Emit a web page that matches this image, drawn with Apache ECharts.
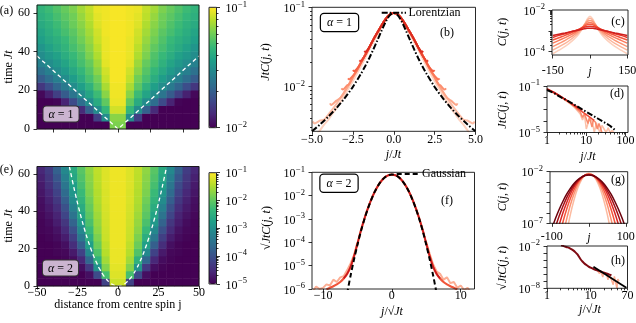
<!DOCTYPE html>
<html><head><meta charset="utf-8">
<script src="https://cdn.jsdelivr.net/npm/echarts@6/dist/echarts.min.js"></script>
<style>html,body{margin:0;padding:0;background:#fff}#c{width:636px;height:323px}</style>
</head><body><div id="c"></div>
<script>
// ================= DATA =================
// heat maps: column centres (j >= 0 half, mirrored), row centres (t)
const heatJHalf = [2.5,7.5,12.5,17.5,22.5,27.5,32.5,37.5,42.5,47.5];
const heatT = [2,6,10,14,18,22,26,30,34,38,42,46,50,54,58,62];
// (a) log10 JtC(j,t), alpha = 1, one row per heatT, columns heatJHalf
const heatA = [
 [-1.20,-2,-2,-2,-2,-2,-2,-2,-2,-2],
 [-1.18,-1.51,-1.81,-2,-2,-2,-2,-2,-2,-2],
 [-1.07,-1.34,-1.51,-1.69,-1.88,-2,-2,-2,-2,-2],
 [-1.03,-1.25,-1.39,-1.51,-1.64,-1.77,-1.90,-1.99,-2,-2],
 [-1.02,-1.18,-1.32,-1.42,-1.51,-1.61,-1.71,-1.81,-1.91,-1.98],
 [-1.02,-1.13,-1.26,-1.36,-1.44,-1.51,-1.59,-1.67,-1.76,-1.84],
 [-1.01,-1.09,-1.22,-1.30,-1.38,-1.45,-1.51,-1.57,-1.64,-1.71],
 [-1.01,-1.07,-1.18,-1.27,-1.34,-1.40,-1.46,-1.51,-1.57,-1.63],
 [-1.01,-1.04,-1.15,-1.24,-1.30,-1.36,-1.42,-1.47,-1.51,-1.56],
 [-1.01,-1.03,-1.12,-1.20,-1.28,-1.33,-1.38,-1.43,-1.47,-1.51],
 [-1.01,-1.03,-1.10,-1.18,-1.25,-1.30,-1.35,-1.39,-1.43,-1.48],
 [-1.01,-1.03,-1.08,-1.16,-1.22,-1.28,-1.33,-1.37,-1.40,-1.44],
 [-1.01,-1.02,-1.07,-1.14,-1.20,-1.26,-1.30,-1.34,-1.38,-1.42],
 [-1.01,-1.02,-1.05,-1.12,-1.18,-1.23,-1.28,-1.32,-1.36,-1.39],
 [-1.01,-1.02,-1.04,-1.10,-1.16,-1.22,-1.26,-1.30,-1.34,-1.37],
 [-1.01,-1.02,-1.03,-1.09,-1.14,-1.20,-1.24,-1.28,-1.32,-1.35]
];
// (e) log10 sqrt(Jt)C(j,t), alpha = 2
const heatE = [
 [-1.30,-4.20,-5,-5,-5,-5,-5,-5,-5,-5],
 [-1.20,-2.20,-4.08,-4.84,-5,-5,-5,-5,-5,-5],
 [-1.16,-1.76,-2.96,-4.32,-4.84,-4.96,-5,-5,-5,-5],
 [-1.12,-1.56,-2.44,-3.68,-4.56,-4.88,-4.96,-5,-5,-5],
 [-1.12,-1.44,-2.12,-3.12,-4.20,-4.72,-4.92,-4.96,-5,-5],
 [-1.10,-1.38,-1.92,-2.76,-3.80,-4.48,-4.84,-4.96,-5,-5],
 [-1.10,-1.32,-1.80,-2.52,-3.40,-4.24,-4.68,-4.88,-4.96,-5],
 [-1.10,-1.30,-1.70,-2.32,-3.12,-4.00,-4.52,-4.80,-4.92,-4.96],
 [-1.10,-1.28,-1.64,-2.16,-2.88,-3.72,-4.36,-4.68,-4.88,-4.96],
 [-1.09,-1.26,-1.58,-2.04,-2.68,-3.46,-4.16,-4.60,-4.80,-4.92],
 [-1.09,-1.24,-1.52,-1.96,-2.54,-3.24,-4.00,-4.48,-4.72,-4.88],
 [-1.09,-1.22,-1.48,-1.88,-2.40,-3.06,-3.80,-4.34,-4.64,-4.84],
 [-1.09,-1.22,-1.46,-1.80,-2.30,-2.90,-3.60,-4.20,-4.56,-4.76],
 [-1.09,-1.20,-1.42,-1.76,-2.20,-2.76,-3.42,-4.08,-4.44,-4.72],
 [-1.09,-1.20,-1.40,-1.72,-2.12,-2.64,-3.28,-3.92,-4.36,-4.64],
 [-1.09,-1.20,-1.38,-1.68,-2.06,-2.56,-3.12,-3.76,-4.28,-4.56]
];
// white dashed guides
const coneJ = [-50, 0, 50];
const coneT = [37.7, 0, 37.7];
const paraT = [0,1,2,4,6,9,12,16,20,25,30,36,42,49,56,64];
const paraJ = [0,3.75,5.3,7.5,9.19,11.25,12.99,15,16.77,18.75,20.54,22.5,24.3,26.25,28.06,30];

// (b) JtC vs j/Jt (right half, mirrored)
const bBodyX = [0,0.25,0.5,0.75,1,1.25,1.5,1.75,2,2.25,2.5,2.75,3,3.25,3.5,3.75,4,4.25,4.5,4.75];
const bBodyY = [.085,.081,.071,.059,.048,.039,.031,.025,.020,.016,.013,.0105,.0086,.0072,.0060,.0051,.0044,.0038,.0033,.0029];
const bFinTails = [ // darkest (latest) first
 [[1.45,.0325],[1.6,.029],[1.72,.0272],[1.8,.028]],
 [[1.75,.0245],[1.9,.0222],[2.02,.0208],[2.1,.0214]],
 [[2.15,.0178],[2.3,.0163],[2.42,.0155],[2.5,.0160]],
 [[2.45,.0140],[2.6,.0129],[2.72,.0122],[2.8,.0126]],
 [[2.85,.0103],[3.0,.0095],[3.12,.0091],[3.2,.0094]],
 [[3.5,.0066],[3.68,.0061],[3.82,.0058],[3.9,.0061]],
 [[4.5,.0037],[4.7,.0035],[4.85,.0034],[4.95,.0036]]
];
const bLightX = [0,0.25,0.5,0.75,1,1.25,1.5,1.75,2,2.25,2.5,2.75,3,3.25,3.5,3.75,4,4.25,4.5,4.75];
const bLightY = [.085,.080,.069,.056,.045,.036,.029,.0228,.018,.0145,.0117,.0095,.0078,.0064,.0053,.0045,.0038,.0033,.0028,.0024];
const lorX = [0,0.25,0.5,0.75,1,1.25,1.5,1.75,2,2.5,3,3.5,4,4.5,5];
const lorY = [.085,.079,.0651,.0504,.0383,.0293,.0227,.018,.0145,.00986,.0071,.00533,.00414,.00331,.0027];

// (c) log10 C(j,t) vs j, 7 times (early -> late)
const cJ = [0,10,20,30,45,60,80,100,125,150];
const cLog = [
 [-2.30,-2.42,-2.65,-2.88,-3.15,-3.35,-3.57,-3.75,-3.93,-4.10],
 [-2.40,-2.48,-2.66,-2.85,-3.08,-3.25,-3.44,-3.60,-3.77,-3.93],
 [-2.50,-2.55,-2.68,-2.83,-3.02,-3.16,-3.32,-3.46,-3.61,-3.76],
 [-2.60,-2.63,-2.71,-2.82,-2.96,-3.08,-3.21,-3.33,-3.46,-3.59],
 [-2.68,-2.70,-2.76,-2.83,-2.93,-3.02,-3.12,-3.22,-3.33,-3.44],
 [-2.78,-2.79,-2.82,-2.86,-2.93,-2.99,-3.06,-3.14,-3.22,-3.32],
 [-2.88,-2.88,-2.90,-2.92,-2.96,-3.00,-3.05,-3.10,-3.16,-3.22]
];

// (d) JtC vs j/Jt, log-log
const dBlackX = [1,1.5,2,3,5,7,10,15,20,30,40,57];
const dBlackY = [.045,.025,.0135,.0065,.0024,.00123,.00061,.00027,.000152,.000068,.000038,.000014];
const dRedX = [
 [1,2,3,4,5,6,7,8,9,10,12,14,16,18,20,22,25,28,32,36,40,45,50],
 [1,2,3,4,5,6,7,8,9,10,11,12,13,14,15,17,19,21,23,25],
 [1,2,3,4,5,6,7,8,9,10,12,14,16],
 [1,1.5,2,3,4,5,6,7,8]
];
const dRedY = [
 [.055,.014,.0055,.0027,.0014,.0007,.0004,.00012,.0003,.00002,.00015,.0001,.00001,.00007,.00005,.00001,.00004,.00003,.00001,.000025,.00001,.000015,.00001],
 [.055,.015,.006,.003,.0017,.0009,.0006,.0002,.0004,.0003,.00006,.0002,.00015,.00003,.00011,.00008,.00002,.00006,.00005,.00001],
 [.055,.0155,.0064,.0033,.0019,.0012,.00082,.00058,.00045,.00034,.00022,.00015,.00011],
 [.055,.029,.016,.0068,.0036,.0022,.0015,.0011,.00085]
];

// (f) log10 sqrt(Jt)C vs j/sqrt(Jt) (right half, mirrored)
const fX = [0,.5,1,1.5,2,2.5,3,3.5,4,4.5,5,5.5,6,6.5,7,7.5,8,8.5,9,9.5];
const fRedLog = [-1.10,-1.13,-1.21,-1.36,-1.57,-1.84,-2.17,-2.56,-3.0,-3.5,-4.06,-4.6,-5.05,-5.35,-5.55,-5.7,-5.8,-5.88,-5.95,-6.02];
const fNoiseX = [5,5.5,6,6.5,7,7.5,8,8.5,9,9.5,10,10.5,11,11.5];
const fNoiseRight = [-4.0,-4.5,-4.95,-5.25,-5.35,-5.6,-5.5,-5.75,-5.7,-5.95,-5.85,-6.05,-5.95,-6.15];
const fNoiseLeft = [-4.0,-4.55,-4.9,-5.2,-5.45,-5.5,-5.7,-5.6,-5.85,-5.8,-5.95,-6.0,-5.9,-6.1];
const gaussX = [0,.5,1,1.5,2,2.5,3,3.5,4,4.5,5,5.5,6,6.5];
const gaussLog = [-1.09,-1.12,-1.21,-1.36,-1.57,-1.84,-2.18,-2.57,-3.02,-3.53,-4.11,-4.74,-5.43,-6.19];

// (g) log10 C(j,t) vs j, 6 times (early -> late)
const gJ = [0,10,20,30,40,50,60,70,80,90,100];
const gLog = [
 [-2.15,-2.31,-2.79,-3.59,-4.72,-6.16,-7.92],
 [-2.20,-2.32,-2.68,-3.29,-4.13,-5.22,-6.60,-8.1],
 [-2.24,-2.33,-2.62,-3.09,-3.75,-4.60,-5.64,-6.87,-8.28],
 [-2.27,-2.35,-2.57,-2.95,-3.48,-4.16,-5.00,-5.98,-7.12],
 [-2.29,-2.35,-2.54,-2.85,-3.29,-3.85,-4.53,-5.34,-6.27,-7.33],
 [-2.31,-2.36,-2.52,-2.78,-3.14,-3.61,-4.18,-4.86,-5.64,-6.52,-7.52]
];

// (h) log10 sqrt(Jt)C vs j/sqrt(Jt), log-log
const hDarkX = [2.1,2.5,3,3.5,4,4.5,5,5.5,6,6.5,7,8,9,10,12,14,17,20,25,30];
const hDarkLog = [-1.9,-2.05,-2.2,-2.4,-2.62,-2.9,-3.2,-3.6,-3.95,-4.2,-4.4,-4.7,-4.92,-5.08,-5.3,-5.45,-5.62,-5.78,-5.98,-6.15];
const hLightX = [10,12,14,16,17,19,20,23,25,27,30,33,35,38,40,42,45];
const hLightLog = [-5.1,-5.25,-5.4,-5.9,-5.5,-6.4,-5.7,-5.9,-6.8,-6.0,-6.1,-7.5,-6.3,-6.5,-8,-6.7,-7.0];
const hBlackX = [11.6, 66];
const hBlackLog = [-4.94, -7.91];

// ================= STYLE / HELPERS =================
const FONT = 'Liberation Serif';
const viridis = ['#440154','#482878','#3e4989','#31688e','#26828e','#1f9e89','#35b779','#6ece58','#b5de2b','#fde725'];
const RICH = {
  b: {fontFamily: FONT, fontSize: 12, color: '#000', verticalAlign: 'bottom'},
  s: {fontFamily: FONT, fontSize: 8.5, color: '#000', verticalAlign: 'bottom', padding: [0, 0, 6, 0.5]},
  i: {fontFamily: FONT, fontSize: 12, fontStyle: 'italic', color: '#000'},
  n: {fontFamily: FONT, fontSize: 12, color: '#000'}
};
const p10 = v => Math.pow(10, v);
const pow10Fmt = v => '{b|10}{s|−' + Math.round(-Math.log10(v)) + '}';
const minusFmt = v => (v < 0 ? '−' : '') + Math.abs(v);
const hyphenFmt = v => (v < 0 ? '-' : '') + Math.abs(v);

function mirrorPairs(xs, ys) {
  const out = [];
  for (let i = xs.length - 1; i >= 0; i--) if (xs[i] !== 0) out.push([-xs[i], ys[i]]);
  for (let i = 0; i < xs.length; i++) out.push([xs[i], ys[i]]);
  return out;
}
const grids = [], xAxes = [], yAxes = [], series = [];
function addGrid(r, border) {
  grids.push({left: r[0], top: r[1], width: r[2], height: r[3], containLabel: false, outerBoundsMode: 'none',
    show: !!border, borderColor: '#111', borderWidth: 0.9, backgroundColor: 'transparent', z: 5});
  return grids.length - 1;
}
function mkAxis(dim, g, s, minor) {
  const ticks = minor ? s.minor : s.major;
  const hasTicks = ticks && ticks.length;
  return {
    gridIndex: g, type: s.type || 'value', logBase: 10, min: s.min, max: s.max,
    position: s.pos || (dim === 'x' ? 'bottom' : 'left'),
    axisLine: {show: false, onZero: false},
    axisTick: hasTicks ? {show: true, customValues: ticks, length: minor ? 2 : 3.5, lineStyle: {color: '#000', width: 0.8}} : {show: false},
    axisLabel: (!minor && s.labels) ? {show: true, customValues: s.labels, formatter: s.fmt, margin: s.margin,
      fontFamily: FONT, fontSize: 12, color: '#000', rich: RICH, hideOverlap: false} : {show: false},
    splitLine: {show: false}, minorTick: {show: false}, z: 6
  };
}
function panel(rect, xs, ys, border = true) {
  const g = addGrid(rect, border);
  const xi = xAxes.length; xAxes.push(mkAxis('x', g, xs, false));
  const yi = yAxes.length; yAxes.push(mkAxis('y', g, ys, false));
  if (xs.minor || ys.minor) {
    const g2 = addGrid(rect, false);
    xAxes.push(mkAxis('x', g2, xs, true)); yAxes.push(mkAxis('y', g2, ys, true));
  }
  return {xi, yi};
}
function line(ax, data, color, width, extra = {}) {
  series.push(Object.assign({type: 'line', xAxisIndex: ax.xi, yAxisIndex: ax.yi, data, symbol: 'none', showSymbol: false, silent: true,
    color, lineStyle: {color, width}, clip: true, z: 3}, extra));
}
const decMinor = (lo, hi) => { const o = []; for (let e = lo; e < hi; e++) for (let k = 2; k <= 9; k++) o.push(k * Math.pow(10, e)); return o; };

// ================= HEATMAPS =================
const RA = [37, 5, 162, 124], RE = [37, 166.5, 162, 119.5];
const heatJFull = heatJHalf.slice().reverse().map(v => -v).concat(heatJHalf);
function heatData(rows) {
  const d = [];
  rows.forEach((row, r) => heatJFull.forEach((j, c) => d.push([c, r, row[c < 10 ? 9 - c : c - 10]])));
  return d;
}
[RA, RE].forEach((r, k) => {
  const g = addGrid(r, false);
  xAxes.push({gridIndex: g, type: 'category', data: heatJFull.map(String), show: false});
  yAxes.push({gridIndex: g, type: 'category', data: heatT.map(String), show: false});
  series.push({type: 'heatmap', xAxisIndex: xAxes.length - 1, yAxisIndex: yAxes.length - 1,
    data: heatData(k === 0 ? heatA : heatE), itemStyle: {borderWidth: 0}, silent: true, progressive: 0});
});
const axA = panel(RA, {min: -50, max: 50, major: [-40, -20, 0, 20, 40]},
  {min: 0, max: 64, major: [0, 20, 40, 60], labels: [0, 20, 40, 60], margin: 7});
const axE = panel(RE, {min: -50, max: 50, major: [-50, -25, 0, 25, 50], labels: [-50, -25, 0, 25, 50], fmt: minusFmt, margin: 1},
  {min: 0, max: 64, major: [0, 20, 40, 60], labels: [0, 20, 40, 60], margin: 7});
line(axA, coneJ.map((j, i) => [j, coneT[i]]), '#fff', 1.3, {lineStyle: {color: '#fff', width: 1.3, type: [4, 3]}});
line(axE, paraJ.slice().reverse().map((j, i) => [-j, paraT[paraT.length - 1 - i]]).concat(paraJ.map((j, i) => [j, paraT[i]]).slice(1)),
  '#fff', 1.3, {smooth: true, lineStyle: {color: '#fff', width: 1.3, type: [4, 3]}});

// colourbars (axis frames; gradient from visualMap)
const CBA = [209, 7.3, 7.5, 120.4], CBE = [209, 172.7, 7.5, 111.3];
panel(CBA, {min: 0, max: 1}, {type: 'log', min: 0.01, max: 0.1, pos: 'right', major: [0.01, 0.1], labels: [0.01, 0.1], fmt: pow10Fmt, margin: 9, minor: decMinor(-2, -1)});
panel(CBE, {min: 0, max: 1}, {type: 'log', min: 1e-5, max: 0.1, pos: 'right', major: [1e-5, 1e-4, 1e-3, 1e-2, 1e-1], labels: [1e-5, 1e-4, 1e-3, 1e-2, 1e-1], fmt: pow10Fmt, margin: 9, minor: decMinor(-5, -1)});

// ================= (b) =================
const axB = panel([312, 7.3, 163.5, 124],
  {min: -5, max: 5, major: [-5, -2.5, 0, 2.5, 5], labels: [-5, -2.5, 0, 2.5, 5], fmt: v => (v < 0 ? '−' : '') + Math.abs(v).toFixed(1), margin: 3},
  {type: 'log', min: 0.0027, max: 0.1, major: [0.01, 0.1], labels: [0.01, 0.1], fmt: pow10Fmt, margin: 7, minor: [0.003,0.004,0.005,0.006,0.007,0.008,0.009,0.02,0.03,0.04,0.05,0.06,0.07,0.08,0.09]});
const bColors = ['#fdd3c1','#fcbca4','#fca588','#fc8e6e','#fb7656','#f45f42','#ea4430','#db2c20'];
line(axB, mirrorPairs(bLightX, bLightY), bColors[0], 2, {smooth: 0.3});
for (let k = bFinTails.length - 1; k >= 0; k--) {
  const tail = bFinTails[k];
  const xs = [], ys = [];
  bBodyX.forEach((x, i) => { if (x < tail[0][0]) { xs.push(x); ys.push(bBodyY[i]); } });
  tail.forEach(p => { xs.push(p[0]); ys.push(p[1]); });
  line(axB, mirrorPairs(xs, ys), bColors[7 - k], 2, {smooth: 0.3});
}
line(axB, mirrorPairs(lorX, lorY), '#000', 2, {name: 'Lorentzian', smooth: 0.3, lineStyle: {color: '#000', width: 2, type: [6, 2, 1.5, 2]}, z: 4});

// ================= (f) =================
const axF = panel([312, 172.3, 162.5, 116.7],
  {min: -11.6, max: 12, major: [-10, 0, 10], labels: [-10, 0, 10], fmt: minusFmt, margin: 1},
  {type: 'log', min: 1e-6, max: 0.1, major: [1e-6, 1e-5, 1e-4, 1e-3, 1e-2, 1e-1], labels: [1e-6, 1e-5, 1e-4, 1e-3, 1e-2, 1e-1], fmt: pow10Fmt, margin: 7});
line(axF, fNoiseX.slice().reverse().map((x, i) => [-x, p10(fNoiseLeft[fNoiseLeft.length - 1 - i])]), '#fcae94', 2);
line(axF, fNoiseX.map((x, i) => [x, p10(fNoiseRight[i])]), '#fcae94', 2);
line(axF, mirrorPairs(fX, fRedLog.map(p10)), '#f0553a', 2.2, {smooth: 0.3});
line(axF, mirrorPairs(fX.slice(0, 15), fRedLog.slice(0, 15).map(p10)), '#c9181d', 1.6, {smooth: 0.3});
line(axF, mirrorPairs(gaussX, gaussLog.map(p10)), '#000', 2, {name: 'Gaussian', smooth: 0.3, lineStyle: {color: '#000', width: 2, type: [5, 3]}, z: 4});

// ================= (c) =================
const axC = panel([552, 10, 76, 45],
  {min: -153, max: 153, major: [-150, 0, 150], labels: [-150, 150], fmt: hyphenFmt, margin: 10},
  {type: 'log', min: 6.9e-5, max: 0.01, major: [1e-4, 1e-3, 1e-2], labels: [1e-4, 1e-2], fmt: pow10Fmt, margin: 7, minor: decMinor(-4, -2)});
const cColors = ['#fdd0bc','#fcb499','#fc9777','#fb7a5a','#f5573e','#e73528','#cf1f1d'];
cLog.forEach((c, k) => line(axC, mirrorPairs(cJ, c.map(p10)), cColors[k], 1.5, {smooth: 0.3}));

// ================= (d) =================
const axD = panel([547, 86, 81, 46.5],
  {type: 'log', min: 1, max: 115, major: [1, 10, 100], labels: [1, 10, 100], margin: 2, minor: decMinor(0, 2).filter(v => v < 115)},
  {type: 'log', min: 1e-5, max: 0.1, major: [1e-5, 1e-4, 1e-3, 1e-2, 1e-1], labels: [1e-5, 1e-1], fmt: pow10Fmt, margin: 7});
const dColors = ['#fcc0a8','#f98a6c','#ee4a36','#c81d1d'];
dRedX.forEach((xs, k) => line(axD, xs.map((x, i) => [x, dRedY[k][i]]), dColors[k], 1.5));
line(axD, dBlackX.map((x, i) => [x, dBlackY[i]]), '#000', 2, {lineStyle: {color: '#000', width: 2, type: [6, 2, 1.5, 2]}, z: 4});

// ================= (g) =================
const axG = panel([550, 171.7, 77.7, 51.6],
  {min: -105, max: 105, major: [-100, 0, 100], labels: [-100, 100], fmt: hyphenFmt, margin: 8},
  {type: 'log', min: 1e-7, max: 0.01, major: [1e-7, 1e-6, 1e-5, 1e-4, 1e-3, 1e-2], labels: [1e-7, 1e-2], fmt: pow10Fmt, margin: 7});
const gColors = ['#fcbba1','#fc9272','#f6553c','#d92523','#a50f15','#6d020d'];
gLog.forEach((c, k) => line(axG, mirrorPairs(gJ.slice(0, c.length), c.map(p10)), gColors[k], 1.5, {smooth: 0.3}));

// ================= (h) =================
const axH = panel([547, 246, 80.5, 42.3],
  {type: 'log', min: 1, max: 70, major: [1, 10], labels: [1, 10, 70], margin: 2, minor: decMinor(0, 2).filter(v => v <= 70)},
  {type: 'log', min: 1e-8, max: 0.01, major: [1e-8, 1e-7, 1e-6, 1e-5, 1e-4, 1e-3, 1e-2], labels: [1e-8, 1e-2], fmt: pow10Fmt, margin: 7});
line(axH, hLightX.map((x, i) => [x, p10(hLightLog[i])]), '#fcae94', 1.5);
line(axH, hDarkX.map((x, i) => [x, p10(hDarkLog[i])]), '#7f0a12', 2, {smooth: 0.3});
line(axH, hBlackX.map((x, i) => [x, p10(hBlackLog[i])]), '#000', 1.8, {z: 4});

// ================= TEXT =================
function T(x, y, text, o = {}) {
  return {type: 'text', x, y, rotation: o.rot ? Math.PI / 2 : 0, z: 100, silent: true,
    style: Object.assign({text, fill: '#000', fontFamily: FONT, fontSize: o.size || 12, align: o.align || 'center', verticalAlign: 'middle', rich: RICH}, o.style || {})};
}
function L(x1, x2, y, dash) {
  return {type: 'line', z: 100, silent: true, shape: {x1, y1: y, x2, y2: y}, style: {stroke: '#000', lineWidth: 2, lineDash: dash}};
}
const JtC = '{i|JtC}({i|j}, {i|t})';
const boxA = {backgroundColor: '#cbb4d0', borderColor: '#333', borderWidth: 1, borderRadius: 3, padding: [2, 5, 1, 5]};
const boxW = {backgroundColor: '#fff', borderColor: '#000', borderWidth: 1.2, borderRadius: 3, padding: [3, 6, 2, 6]};
const graphic = [
  T(6.5, 11, '(a)'), T(6.5, 170, '(e)'),
  T(9, 67, 'time {i|Jt}', {rot: 1}), T(9, 226, 'time {i|Jt}', {rot: 1}),
  T(118, 305, 'distance from centre spin j'),
  T(266, 62, JtC, {rot: 1}), T(267, 228, '√' + JtC, {rot: 1}),
  T(61, 114, '{i|α} = 1', {style: boxA}), T(60.5, 268, '{i|α} = 2', {style: boxA}),
  T(339.5, 22.5, '{i|α} = 1', {style: boxW}), T(339, 183.3, '{i|α} = 2', {style: boxW}),
  L(381.7, 406, 12.7, [6, 2, 1.5, 2]), T(408.5, 13, 'Lorentzian', {align: 'left'}),
  L(396.7, 420, 174, [5, 3]), T(422, 174, 'Gaussian', {align: 'left'}),
  T(447, 33, '(b)'), T(447, 200.7, '(f)'),
  T(393.5, 155, '{i|j}/{i|Jt}'), T(392, 312, '{i|j}/√{i|Jt}'),
  T(590, 72, '{i|j}'), T(589, 238, '{i|j}'),
  T(588, 157, '{i|j}/{i|Jt}'), T(590, 310, '{i|j}/√{i|Jt}'),
  T(503, 32, '{i|C}({i|j}, {i|t})', {rot: 1}), T(503, 110, JtC, {rot: 1}),
  T(503, 197, '{i|C}({i|j}, {i|t})', {rot: 1}), T(503, 268, '√' + JtC, {rot: 1}),
  T(618, 22, '(c)'), T(617, 94, '(d)'), T(618, 180, '(g)'), T(618, 261, '(h)')
];

const chart = echarts.init(document.getElementById('c'), null, {renderer: 'canvas'});
chart.setOption({
  animation: false, backgroundColor: '#fff',
  grid: grids, xAxis: xAxes, yAxis: yAxes, series, graphic,
  visualMap: [
    {type: 'continuous', seriesIndex: 0, min: -2, max: -1, inRange: {color: viridis}, left: CBA[0], top: CBA[1],
     itemWidth: CBA[2], itemHeight: CBA[3], calculable: false, hoverLink: false, padding: 0, text: null, showLabel: false, z: 4},
    {type: 'continuous', seriesIndex: 1, min: -5, max: -1, inRange: {color: viridis}, left: CBE[0], top: CBE[1],
     itemWidth: CBE[2], itemHeight: CBE[3], calculable: false, hoverLink: false, padding: 0, text: null, showLabel: false, z: 4}
  ]
});
</script></body></html>
